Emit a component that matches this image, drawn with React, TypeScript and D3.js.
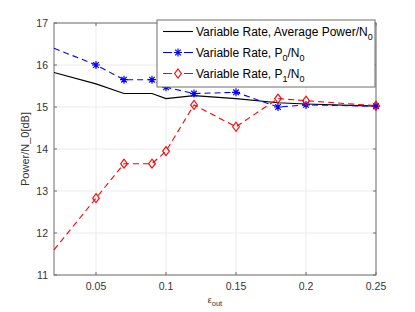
import React, { useRef, useEffect } from 'react';
import * as d3 from 'd3';

const eps = [0.02, 0.05, 0.07, 0.09, 0.1, 0.12, 0.15, 0.18, 0.2, 0.25];
const avgPower = [15.82, 15.55, 15.32, 15.32, 15.2, 15.27, 15.2, 15.1, 15.07, 15.02];
const p0 = [16.4, 16.0, 15.65, 15.65, 15.47, 15.32, 15.35, 15.0, 15.05, 15.02];
const p1 = [11.6, 12.83, 13.65, 13.65, 13.95, 15.05, 14.53, 15.2, 15.15, 15.03];
const xTicks = [0.05, 0.1, 0.15, 0.2, 0.25];
const yTicks = [11, 12, 13, 14, 15, 16, 17];

const App = () => {
  const ref = useRef<SVGSVGElement>(null);

  useEffect(() => {
    const svg = d3.select(ref.current);
    svg.selectAll('*').remove();

    const margin = { top: 23, right: 39, bottom: 37, left: 54 };
    const W = 415, H = 312;
    const w = W - margin.left - margin.right;
    const h = H - margin.top - margin.bottom;
    const font = 'Liberation Sans, Arial, sans-serif';

    const x = d3.scaleLinear().domain([0.02, 0.25]).range([0, w]);
    const y = d3.scaleLinear().domain([11, 17]).range([h, 0]);

    const g = svg.append('g').attr('transform', `translate(${margin.left},${margin.top})`);

    // grid
    g.selectAll('.gx').data(xTicks).enter().append('line')
      .attr('x1', d => x(d)).attr('x2', d => x(d)).attr('y1', 0).attr('y2', h)
      .attr('stroke', '#ebebeb').attr('stroke-width', 1);
    g.selectAll('.gy').data(yTicks).enter().append('line')
      .attr('y1', d => y(d)).attr('y2', d => y(d)).attr('x1', 0).attr('x2', w)
      .attr('stroke', '#ebebeb').attr('stroke-width', 1);

    // box with inner ticks
    const axCol = '#6e6e6e';
    g.append('rect').attr('width', w).attr('height', h)
      .attr('fill', 'none').attr('stroke', axCol).attr('stroke-width', 1);
    const tk = 3;
    xTicks.forEach(t => {
      g.append('line').attr('x1', x(t)).attr('x2', x(t)).attr('y1', h).attr('y2', h - tk).attr('stroke', axCol);
      g.append('line').attr('x1', x(t)).attr('x2', x(t)).attr('y1', 0).attr('y2', tk).attr('stroke', axCol);
    });
    yTicks.forEach(t => {
      g.append('line').attr('y1', y(t)).attr('y2', y(t)).attr('x1', 0).attr('x2', tk).attr('stroke', axCol);
      g.append('line').attr('y1', y(t)).attr('y2', y(t)).attr('x1', w).attr('x2', w - tk).attr('stroke', axCol);
    });

    g.selectAll('.xl').data(xTicks).enter().append('text')
      .attr('x', d => x(d)).attr('y', h + 15)
      .attr('text-anchor', 'middle').attr('font-family', font).attr('font-size', 10.5)
      .attr('fill', '#333').text(d => String(d));
    g.selectAll('.yl').data(yTicks).enter().append('text')
      .attr('x', -6).attr('y', d => y(d)).attr('dy', '0.35em')
      .attr('text-anchor', 'end').attr('font-family', font).attr('font-size', 10.5)
      .attr('fill', '#333').text(d => String(d));

    // axis labels
    g.append('text')
      .attr('transform', `translate(-25,${h / 2}) rotate(-90)`)
      .attr('text-anchor', 'middle').attr('font-family', font).attr('font-size', 11)
      .attr('fill', '#333').text('Power/N_0[dB]');
    const xl = g.append('text')
      .attr('x', w / 2).attr('y', h + 28)
      .attr('text-anchor', 'middle').attr('font-family', font).attr('font-size', 9)
      .attr('fill', '#333');
    xl.append('tspan').text('ε');
    xl.append('tspan').attr('dy', 3).attr('font-size', 7.5).text('out');

    const line = d3.line<number>().x((_, i) => x(eps[i])).y(d => y(d));

    const plot = g.append('g');
    plot.append('path').datum(avgPower).attr('d', line)
      .attr('fill', 'none').attr('stroke', '#000').attr('stroke-width', 1.1);
    plot.append('path').datum(p0).attr('d', line)
      .attr('fill', 'none').attr('stroke', '#0000ff').attr('stroke-width', 1.1)
      .attr('stroke-dasharray', '6,4');
    plot.append('path').datum(p1).attr('d', line)
      .attr('fill', 'none').attr('stroke', '#ff0000').attr('stroke-width', 1.1)
      .attr('stroke-dasharray', '6,4');

    const star = (sel: any, cx: number, cy: number, r: number) => {
      const p = d3.path();
      p.moveTo(cx - r, cy); p.lineTo(cx + r, cy);
      p.moveTo(cx, cy - r); p.lineTo(cx, cy + r);
      const d = r * 0.7;
      p.moveTo(cx - d, cy - d); p.lineTo(cx + d, cy + d);
      p.moveTo(cx - d, cy + d); p.lineTo(cx + d, cy - d);
      sel.append('path').attr('d', p.toString()).attr('stroke', '#0000ff')
        .attr('stroke-width', 1.2).attr('fill', 'none');
    };
    const diamond = (sel: any, cx: number, cy: number, r: number) => {
      sel.append('path')
        .attr('d', `M${cx},${cy - r}L${cx + r * 0.75},${cy}L${cx},${cy + r}L${cx - r * 0.75},${cy}Z`)
        .attr('stroke', '#ff0000').attr('stroke-width', 1.1).attr('fill', 'none');
    };

    p0.forEach((v, i) => { if (i > 0) star(plot, x(eps[i]), y(v), 4); });
    p1.forEach((v, i) => { if (i > 0) diamond(plot, x(eps[i]), y(v), 4.5); });

    // legend
    const lg = svg.append('g').attr('transform', 'translate(157,20)');
    lg.append('rect').attr('width', 218).attr('height', 67)
      .attr('fill', '#fff').attr('stroke', axCol).attr('stroke-width', 1);
    const entries = [
      { label: 'Average Power/N', sub: '0', color: '#000', dash: false, mk: null },
      { label: 'P', sub: '0', color: '#0000ff', dash: true, mk: 'star' },
      { label: 'P', sub: '1', color: '#ff0000', dash: true, mk: 'diamond' },
    ];
    entries.forEach((e, i) => {
      const yy = 11.5 + i * 21;
      const ln = lg.append('line').attr('x1', 6).attr('x2', 36).attr('y1', yy).attr('y2', yy)
        .attr('stroke', e.color).attr('stroke-width', 1.1);
      if (e.dash) ln.attr('stroke-dasharray', '9,12');
      if (e.mk === 'star') star(lg, 21, yy, 4);
      if (e.mk === 'diamond') diamond(lg, 21, yy, 4.5);
      const t = lg.append('text').attr('x', 39).attr('y', yy).attr('dy', '0.35em')
        .attr('font-family', font).attr('font-size', 12).attr('fill', '#000');
      t.append('tspan').text('Variable Rate, ' + e.label);
      t.append('tspan').attr('dy', 4).attr('font-size', 9).text(e.sub);
      if (i > 0) {
        t.append('tspan').attr('dy', -4).text('/N');
        t.append('tspan').attr('dy', 4).attr('font-size', 9).text('0');
      }
    });
  }, []);

  return <svg ref={ref} width={415} height={312} style={{ position: 'absolute', left: 0, top: 0 }} />;
};

export default App;
